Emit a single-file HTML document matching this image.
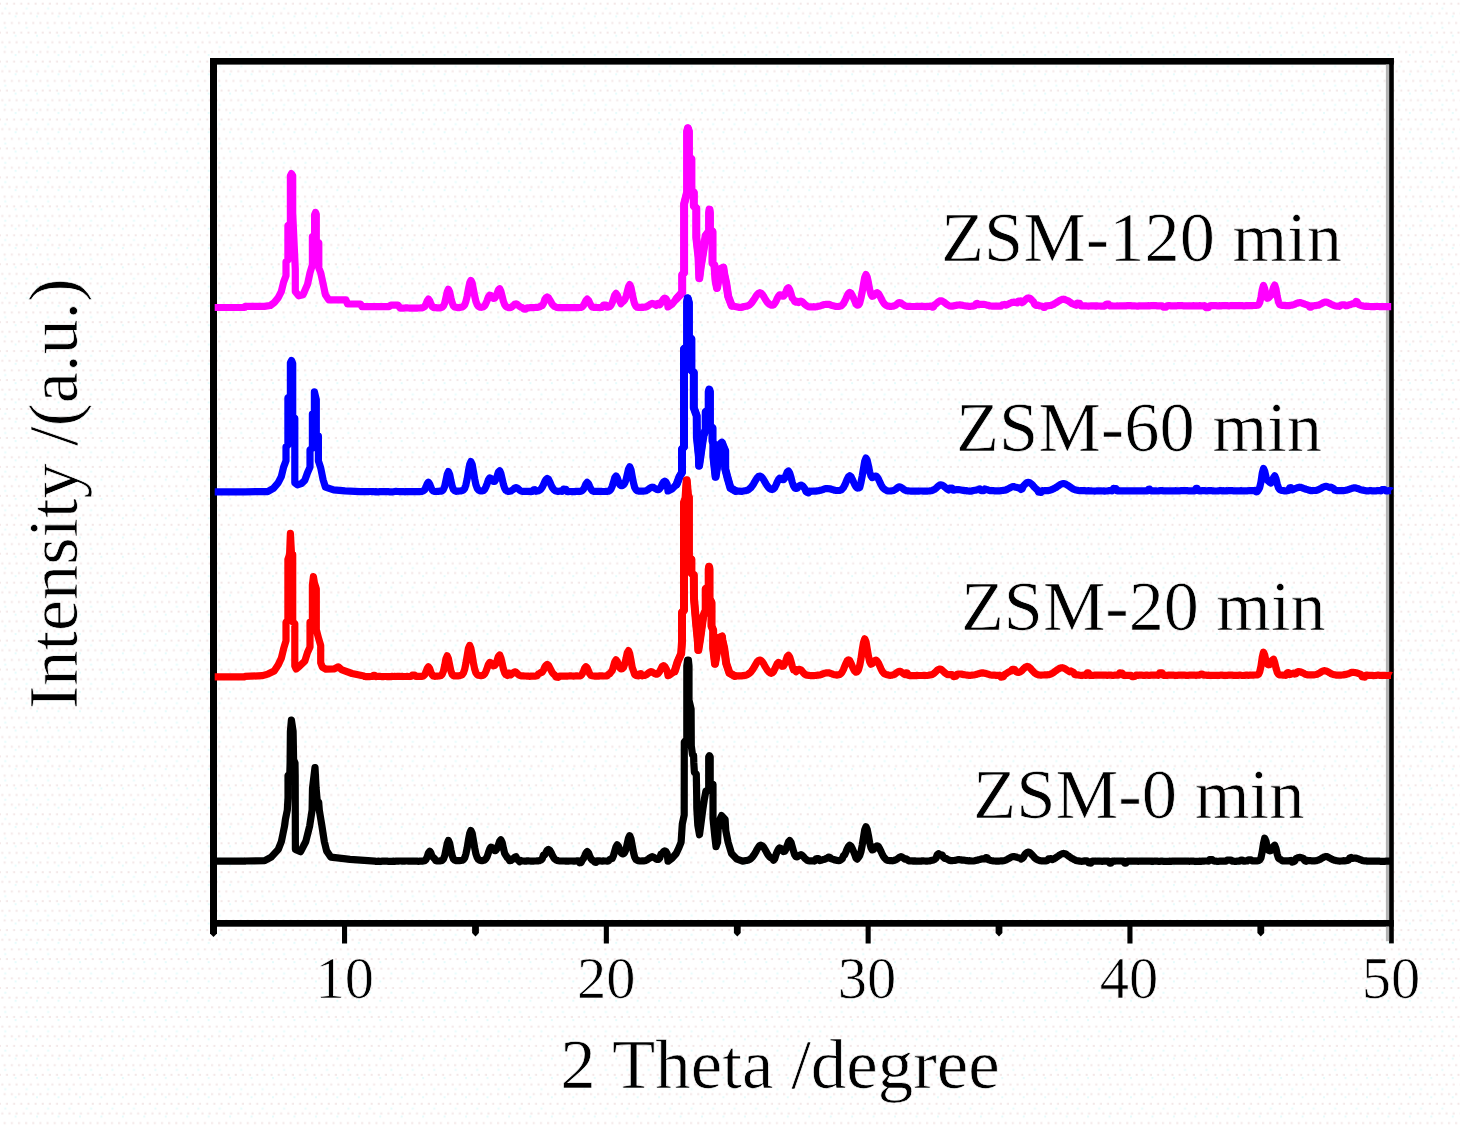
<!DOCTYPE html>
<html lang="en">
<head>
<meta charset="utf-8">
<title>XRD patterns of ZSM samples</title>
<style>
html,body{margin:0;padding:0;background:#fefefe;}
body{width:1460px;height:1145px;overflow:hidden;position:relative;}
svg{position:absolute;left:0;top:0;display:block;}
text{font-family:"Liberation Serif","Times New Roman",serif;fill:#000;stroke:#fefefe;stroke-width:0.7px;}
</style>
</head>
<body>
<svg width="1460" height="1145" viewBox="0 0 1460 1145">
<defs>
<pattern id="dither" x="0" y="2.7" width="7.15" height="28.95" patternUnits="userSpaceOnUse">
<rect x="6.0" y="0" width="2" height="2" fill="#f3e7e7"/><rect x="-1.15" y="0" width="2" height="2" fill="#f3e7e7"/>
<rect x="1.3" y="9.65" width="2" height="2" fill="#f3e7e7"/>
<rect x="3.7" y="19.3" width="2" height="2" fill="#f3e7e7"/>
</pattern>
<pattern id="dither2" x="0" y="0" width="21.45" height="19.3" patternUnits="userSpaceOnUse">
<rect x="4.3" y="7.4" width="2" height="2" fill="#e6fbfb"/>
<rect x="14.6" y="15.5" width="2" height="2" fill="#e6fbfb"/>
</pattern>
</defs>
<rect x="0" y="0" width="1460" height="1145" fill="#ffffff"/>
<rect x="0" y="0" width="1460" height="1125" fill="url(#dither)"/>
<rect x="0" y="0" width="1460" height="1125" fill="url(#dither2)"/>
<g id="frame" fill="#000">
<rect x="210" y="58" width="1183.8" height="6.6"/>
<rect x="210" y="58" width="7" height="868.7"/>
<rect x="210" y="920" width="1183.8" height="6.7"/>
<rect x="1389.1" y="58" width="4.7" height="885.4"/>
<rect x="1385.9" y="64.6" width="3.2" height="855.4" fill="#b4b4b4"/>
<rect x="1385.9" y="926.7" width="3.2" height="14.5" fill="#b4b4b4"/>
</g>
<g id="curves">
<path d="M214.7,307.5 L215.9,307.5 L217.2,307.5 L218.4,307.5 L219.7,307.5 L220.9,307.5 L222.2,307.5 L223.4,307.5 L224.7,307.5 L225.9,307.5 L227.2,307.5 L228.4,307.5 L229.7,307.5 L230.9,307.5 L232.2,307.5 L233.4,307.5 L234.7,307.5 L235.9,307.5 L237.2,307.5 L238.4,307.5 L239.7,307.5 L240.9,307.5 L242.2,307.5 L243.4,307.5 L244.7,307.5 L245.0,306.4 L264.4,306.4 L270.3,305.5 L274.2,302.6 L278.1,297.9 L281.3,291.6 L283.6,282.1 L286.0,275.8 L286.0,261.8 L287.9,260.1 L287.9,225.5 L290.4,223.9 L290.4,175.8 L291.5,173.6 L292.7,175.8 L292.7,212.9 L295.3,269.5 L295.3,291.5 L298.7,295.9 L303.0,294.7 L307.5,284.4 L310.0,272.7 L312.4,264.8 L312.4,236.5 L314.6,234.9 L314.6,214.8 L315.5,212.4 L316.3,214.3 L316.3,241.2 L318.8,242.8 L318.8,267.9 L320.7,272.7 L323.1,283.7 L325.4,294.7 L328.9,299.9 L346.0,299.9 L347.5,304.0 L360.5,304.0 L362.0,306.7 L389.0,306.7 L391.0,305.1 L398.0,305.1 L400.0,308.1 L400.9,308.0 L402.2,308.2 L403.4,308.2 L404.7,308.0 L405.9,307.8 L407.2,307.9 L408.4,308.0 L409.7,308.1 L410.9,308.1 L412.2,308.1 L413.4,308.1 L414.7,308.2 L415.9,308.1 L417.2,308.1 L418.4,308.0 L419.7,308.0 L420.9,307.9 L422.2,307.8 L423.4,307.4 L424.7,306.5 L425.9,304.2 L427.2,301.0 L428.4,299.1 L429.7,300.7 L430.9,304.0 L432.2,306.5 L433.4,307.4 L434.7,307.7 L435.9,307.7 L437.2,307.8 L438.4,307.9 L439.7,307.9 L440.9,307.7 L442.2,307.2 L443.4,306.0 L444.7,303.1 L445.9,297.9 L447.2,292.0 L448.4,289.2 L449.7,292.0 L450.9,297.8 L452.2,303.0 L453.4,305.8 L454.7,307.0 L455.9,307.3 L457.2,307.6 L458.4,307.6 L459.7,307.6 L460.9,307.3 L462.2,307.0 L463.4,306.4 L464.7,304.7 L465.9,301.5 L467.2,296.0 L468.4,289.2 L469.7,282.9 L470.9,280.4 L472.2,283.1 L473.4,289.4 L474.7,296.1 L475.9,301.4 L477.2,304.7 L478.4,306.4 L479.7,307.1 L480.9,307.3 L482.2,307.2 L483.4,306.8 L484.7,305.7 L485.9,303.5 L487.2,300.3 L488.4,296.9 L489.7,295.2 L490.9,295.5 L492.2,297.1 L493.4,298.4 L494.7,298.2 L495.9,296.5 L497.2,293.2 L498.4,289.9 L499.7,288.7 L500.9,291.3 L502.2,296.3 L503.4,301.3 L504.7,304.7 L505.9,306.4 L507.2,307.2 L508.4,307.6 L509.7,307.6 L510.9,307.4 L512.2,306.6 L513.5,305.5 L514.7,304.3 L516.0,303.9 L517.2,304.4 L518.5,305.6 L519.7,306.6 L521.0,307.2 L522.2,307.5 L523.5,308.9 L524.7,309.1 L526.0,309.1 L527.2,307.8 L528.5,307.9 L529.7,307.7 L531.0,307.7 L532.2,307.6 L533.5,307.6 L534.7,307.5 L536.0,307.4 L537.2,307.4 L538.5,307.2 L539.7,306.8 L541.0,305.8 L542.2,305.7 L543.5,303.5 L544.7,299.8 L546.0,297.8 L547.2,297.0 L548.5,297.8 L549.7,299.8 L551.0,302.1 L552.2,304.2 L553.5,305.6 L554.7,306.5 L556.0,307.1 L557.2,307.5 L558.5,307.7 L559.7,307.6 L561.0,307.6 L562.2,307.5 L563.5,307.6 L564.7,307.6 L566.0,307.7 L567.2,307.6 L568.5,307.6 L569.7,307.6 L571.0,307.6 L572.2,307.6 L573.5,307.7 L574.7,307.7 L576.0,307.7 L577.2,307.6 L578.5,307.6 L579.7,307.5 L581.0,307.4 L582.2,306.9 L583.5,305.4 L584.7,303.0 L586.0,300.4 L587.2,299.1 L588.5,300.3 L589.7,303.0 L591.0,305.4 L592.2,307.0 L593.5,307.4 L594.7,307.4 L596.0,307.4 L597.2,307.5 L598.5,307.5 L599.7,307.6 L601.0,307.4 L602.2,307.4 L603.5,305.1 L604.7,305.2 L606.0,305.0 L607.2,307.2 L608.5,306.9 L609.7,306.5 L611.0,305.3 L612.2,302.8 L613.5,298.9 L614.7,295.1 L616.0,293.4 L617.2,294.9 L618.5,298.1 L619.7,301.0 L621.0,303.7 L622.2,302.1 L623.5,301.3 L624.7,299.8 L626.0,296.8 L627.2,291.8 L628.5,286.8 L629.7,284.6 L631.0,287.4 L632.2,293.4 L633.5,299.7 L634.7,304.1 L636.0,306.4 L637.2,307.3 L638.5,307.5 L639.7,307.3 L641.0,307.3 L642.2,307.2 L643.5,307.3 L644.7,307.1 L646.0,306.9 L647.2,306.4 L648.5,305.6 L649.7,304.7 L651.0,303.8 L652.2,303.4 L653.5,303.7 L654.7,304.5 L656.0,305.4 L657.2,303.5 L658.5,303.4 L659.7,304.8 L661.0,303.1 L662.2,300.9 L663.5,298.9 L664.7,298.1 L666.0,298.9 L667.2,300.9 L668.0,306.9 L672.0,304.3 L676.7,298.5 L682.2,292.5 L682.2,274.8 L684.1,272.8 L684.1,204.1 L687.1,192.3 L687.1,131.4 L687.9,128.2 L688.9,131.4 L688.9,157.0 L691.4,158.9 L691.4,190.4 L693.8,192.3 L693.8,206.1 L696.3,208.1 L696.3,237.5 L698.5,257.2 L699.3,278.2 L700.7,267.0 L703.6,249.3 L705.7,235.6 L707.2,233.6 L709.1,231.6 L709.1,213.0 L709.5,209.6 L709.9,213.0 L709.9,229.7 L712.5,231.6 L712.5,263.1 L714.4,265.0 L715.6,280.8 L717.0,288.0 L718.9,276.8 L720.5,269.0 L723.3,267.6 L724.2,273.9 L726.2,283.2 L728.2,296.4 L731.7,305.7 L738.6,307.3 L742.0,307.3 L742.2,306.8 L743.5,306.7 L744.7,306.6 L746.0,306.3 L747.2,306.1 L748.5,305.5 L749.7,304.7 L751.0,303.6 L752.2,302.0 L753.5,300.2 L754.7,298.3 L756.0,296.2 L757.2,294.5 L758.5,293.2 L759.7,292.7 L761.0,293.1 L762.2,294.3 L763.5,296.1 L764.7,298.2 L766.0,300.4 L767.2,302.1 L768.5,303.4 L769.7,304.4 L771.0,305.1 L772.2,305.2 L773.5,304.8 L774.7,303.4 L776.0,301.3 L777.2,298.5 L778.5,296.1 L779.7,294.8 L781.0,295.1 L782.2,296.1 L783.5,296.2 L784.7,294.7 L786.0,291.7 L787.2,288.7 L788.5,287.7 L789.7,289.6 L791.0,293.6 L792.2,298.0 L793.5,299.4 L794.7,301.6 L796.0,302.2 L797.2,301.5 L798.5,302.5 L799.7,301.5 L801.0,301.1 L802.2,301.7 L803.5,302.9 L804.7,304.2 L806.0,305.3 L807.2,306.1 L808.5,306.7 L809.7,306.9 L811.0,306.9 L812.2,306.9 L813.5,306.7 L814.7,306.8 L816.0,306.8 L817.2,306.6 L818.5,306.3 L819.7,306.0 L821.0,305.6 L822.2,305.2 L823.5,304.8 L824.7,304.5 L826.0,304.4 L827.2,304.3 L828.5,304.3 L829.7,304.6 L831.0,305.1 L832.2,305.5 L833.5,305.8 L834.7,306.2 L836.0,306.4 L837.2,306.5 L838.5,306.5 L839.7,306.3 L841.0,305.9 L842.2,304.9 L843.5,303.5 L844.7,301.2 L846.0,298.5 L847.2,295.6 L848.5,293.4 L849.7,292.5 L851.0,293.2 L852.2,295.3 L853.5,298.0 L854.7,300.8 L856.0,304.1 L857.2,305.2 L858.5,305.0 L859.7,303.2 L861.0,298.0 L862.2,291.8 L863.5,284.1 L864.7,277.4 L866.0,274.5 L867.2,277.0 L868.5,283.1 L869.7,289.6 L871.0,294.3 L872.2,296.3 L873.5,296.0 L874.7,294.6 L876.0,293.1 L877.2,292.7 L878.5,293.6 L879.7,295.6 L881.0,298.1 L882.2,300.6 L883.5,302.7 L884.7,304.2 L886.0,305.3 L887.2,305.9 L888.5,306.2 L889.7,306.3 L891.0,306.5 L892.2,306.3 L893.5,306.1 L894.7,305.7 L896.0,305.0 L897.2,303.8 L898.5,302.8 L899.7,302.6 L901.0,303.0 L902.2,304.0 L903.5,304.8 L904.7,305.7 L906.0,306.1 L907.2,306.4 L908.5,306.4 L909.7,306.4 L911.0,306.5 L912.2,306.5 L913.5,306.5 L914.7,306.5 L916.0,306.4 L917.2,306.4 L918.5,306.5 L919.7,306.3 L921.0,306.3 L922.2,306.2 L923.5,306.5 L924.7,306.6 L926.0,306.6 L927.2,306.4 L928.5,306.4 L929.7,306.2 L931.0,306.1 L932.2,307.2 L933.5,306.9 L934.7,304.8 L936.0,303.9 L937.2,302.8 L938.5,301.7 L939.7,300.9 L941.0,300.8 L942.2,301.1 L943.5,301.8 L944.7,302.8 L946.0,303.7 L947.2,304.7 L948.5,305.4 L949.7,306.0 L951.0,306.1 L952.2,306.2 L953.5,305.9 L954.7,305.6 L956.0,305.4 L957.2,305.1 L958.5,305.0 L959.7,304.9 L961.0,305.1 L962.2,305.2 L963.5,305.5 L964.7,305.7 L966.0,306.0 L967.2,306.1 L968.5,306.3 L969.7,306.3 L971.0,306.3 L972.2,306.1 L973.5,306.1 L974.7,305.8 L976.0,303.9 L977.2,303.4 L978.5,304.7 L979.7,304.4 L981.0,304.3 L982.2,304.4 L983.5,304.3 L984.7,304.5 L986.0,304.7 L987.2,305.2 L988.5,305.4 L989.7,305.9 L991.0,306.0 L992.2,306.1 L993.5,306.0 L994.7,306.1 L996.0,306.1 L997.2,306.2 L998.5,306.1 L999.7,306.2 L1001.0,306.2 L1002.2,304.9 L1003.5,304.7 L1004.7,304.4 L1006.0,305.2 L1007.2,304.7 L1008.5,304.1 L1009.7,303.4 L1011.0,302.9 L1012.2,302.4 L1013.5,302.2 L1014.7,302.2 L1016.0,302.5 L1017.2,302.9 L1018.5,301.0 L1019.7,301.0 L1021.0,300.9 L1022.2,302.6 L1023.5,301.7 L1024.7,300.5 L1026.0,299.2 L1027.2,298.3 L1028.5,297.9 L1029.7,298.2 L1031.0,299.2 L1032.2,300.5 L1033.5,301.8 L1034.7,304.4 L1036.0,305.4 L1037.2,304.9 L1038.5,305.4 L1039.7,305.9 L1041.0,306.0 L1042.2,306.2 L1043.5,307.4 L1044.7,307.4 L1046.0,305.9 L1047.2,305.8 L1048.5,305.7 L1049.7,305.5 L1051.0,305.4 L1052.2,304.9 L1053.5,304.4 L1054.7,303.6 L1056.0,302.9 L1057.2,302.1 L1058.5,301.3 L1059.7,300.5 L1061.0,299.8 L1062.2,299.4 L1063.5,299.2 L1064.7,299.4 L1066.0,300.0 L1067.2,300.5 L1068.5,301.1 L1069.7,301.9 L1071.0,302.9 L1072.2,303.7 L1073.5,304.2 L1074.7,304.7 L1076.0,305.2 L1077.2,303.1 L1078.5,303.3 L1079.7,303.4 L1081.0,305.9 L1082.2,305.9 L1083.5,305.9 L1084.7,305.8 L1086.0,305.9 L1087.2,306.0 L1088.5,306.1 L1089.7,306.0 L1091.0,305.9 L1092.2,305.8 L1093.5,305.9 L1094.7,305.9 L1096.0,306.1 L1097.2,305.9 L1098.5,306.0 L1099.7,306.0 L1101.0,306.1 L1102.2,306.2 L1103.5,306.1 L1104.7,306.1 L1106.0,304.3 L1107.2,304.2 L1108.5,304.2 L1109.7,305.8 L1111.0,305.9 L1112.2,305.9 L1113.5,306.0 L1114.7,306.0 L1116.0,306.0 L1117.2,305.9 L1118.5,306.0 L1119.7,305.9 L1121.0,305.9 L1122.2,305.9 L1123.5,305.9 L1124.7,305.8 L1126.0,305.8 L1127.2,305.7 L1128.5,305.6 L1129.7,305.6 L1131.0,305.7 L1132.2,306.0 L1133.5,305.9 L1134.7,305.9 L1136.0,306.0 L1137.2,306.1 L1138.5,306.1 L1139.7,305.8 L1141.0,305.8 L1142.2,305.9 L1143.5,305.9 L1144.7,305.9 L1146.0,305.8 L1147.2,305.8 L1148.5,305.7 L1149.7,305.8 L1151.0,305.7 L1152.2,305.7 L1153.5,305.6 L1154.7,305.7 L1156.0,305.7 L1157.2,305.8 L1158.5,305.8 L1159.7,305.9 L1161.0,305.9 L1162.2,305.8 L1163.5,307.1 L1164.7,307.2 L1166.0,307.2 L1167.2,305.8 L1168.5,305.7 L1169.7,305.7 L1171.0,305.8 L1172.2,305.8 L1173.5,305.9 L1174.7,305.9 L1176.0,305.9 L1177.2,305.7 L1178.5,305.7 L1179.7,305.7 L1181.0,305.6 L1182.2,305.7 L1183.5,305.8 L1184.7,305.9 L1186.0,305.8 L1187.2,305.9 L1188.5,305.8 L1189.7,305.9 L1191.0,305.8 L1192.2,305.8 L1193.5,305.7 L1194.7,305.8 L1196.0,305.8 L1197.2,305.9 L1198.5,305.8 L1199.7,305.7 L1201.0,305.8 L1202.2,305.8 L1203.5,305.8 L1204.7,305.7 L1206.0,307.6 L1207.2,307.7 L1208.5,307.7 L1209.7,305.8 L1211.0,305.7 L1212.2,305.7 L1213.5,305.7 L1214.7,305.6 L1216.0,305.7 L1217.2,305.8 L1218.5,305.8 L1219.7,305.7 L1221.0,305.8 L1222.2,305.7 L1223.5,305.6 L1224.7,305.5 L1226.0,305.6 L1227.2,305.7 L1228.5,305.8 L1229.7,305.8 L1231.0,305.6 L1232.2,305.6 L1233.5,305.5 L1234.7,305.6 L1236.0,305.7 L1237.2,305.7 L1238.5,305.7 L1239.7,305.6 L1241.0,305.6 L1242.2,305.7 L1243.5,305.8 L1244.7,305.8 L1246.0,305.7 L1247.2,305.6 L1248.5,305.6 L1249.7,305.6 L1251.0,305.6 L1252.2,305.6 L1253.5,305.5 L1254.7,305.5 L1256.0,305.5 L1257.2,305.3 L1258.5,304.8 L1259.7,302.6 L1261.0,297.4 L1262.2,289.7 L1263.5,285.4 L1264.7,288.8 L1266.0,295.0 L1267.2,298.3 L1268.5,298.0 L1269.7,296.6 L1271.0,295.2 L1272.2,292.0 L1273.5,287.4 L1274.7,285.1 L1276.0,289.1 L1277.2,296.3 L1278.5,301.9 L1279.7,304.5 L1281.0,305.2 L1282.2,305.3 L1283.5,305.4 L1284.7,305.4 L1286.0,305.6 L1287.2,305.6 L1288.5,305.7 L1289.7,305.6 L1291.0,305.3 L1292.2,305.1 L1293.5,304.7 L1294.7,304.3 L1296.0,303.6 L1297.2,303.2 L1298.5,302.8 L1299.7,302.7 L1301.0,302.7 L1302.2,303.2 L1303.5,303.6 L1304.7,304.1 L1306.0,304.5 L1307.2,305.0 L1308.5,305.4 L1309.7,307.1 L1311.0,307.2 L1312.2,305.9 L1313.5,305.8 L1314.7,305.7 L1316.0,305.6 L1317.2,305.3 L1318.5,305.1 L1319.7,304.6 L1321.0,304.0 L1322.2,303.2 L1323.5,302.6 L1324.7,302.2 L1326.0,302.1 L1327.2,302.3 L1328.5,302.9 L1329.7,303.5 L1331.0,304.2 L1332.2,304.7 L1333.5,305.3 L1334.7,305.7 L1336.0,306.0 L1337.2,306.2 L1338.5,306.2 L1339.7,306.3 L1341.0,305.0 L1342.2,304.9 L1343.5,304.8 L1344.7,304.8 L1346.0,305.8 L1347.2,305.6 L1348.5,305.1 L1349.7,304.8 L1351.0,304.3 L1352.2,303.9 L1353.5,303.7 L1354.7,303.6 L1356.0,301.5 L1357.2,301.8 L1358.5,304.4 L1359.7,304.9 L1361.0,305.4 L1362.2,305.8 L1363.5,306.1 L1364.7,306.3 L1366.0,306.2 L1367.2,306.3 L1368.5,306.4 L1369.7,306.5 L1371.0,306.6 L1372.2,306.6 L1373.5,306.6 L1374.7,306.6 L1376.0,306.5 L1377.2,306.4 L1378.5,306.5 L1379.7,306.6 L1381.0,306.7 L1382.2,306.7 L1383.5,306.7 L1384.7,306.6 L1386.0,306.5 L1387.2,306.6 L1388.5,306.6 L1389.7,306.7 L1391.0,306.6 L1391.2,306.6" fill="none" stroke="#ff00ff" stroke-width="7.2" stroke-linejoin="round" stroke-linecap="butt"/>
<path d="M676.7,298.5 L682.2,292.5 L682.2,274.8 L684.1,272.8 L684.1,204.1 L687.1,192.3 L687.1,131.4 L687.9,128.2 L688.9,131.4 L688.9,157.0 L691.4,158.9 L691.4,190.4 L693.8,192.3 L693.8,206.1 L696.3,208.1 L696.3,237.5 L698.5,257.2 L699.3,278.2 L700.7,267.0 L703.6,249.3 L705.7,235.6 L707.2,233.6 L709.1,231.6 L709.1,213.0 L709.5,209.6 L709.9,213.0 L709.9,229.7 L712.5,231.6 L712.5,263.1 L714.4,265.0 L715.6,280.8 L717.0,288.0 L718.9,276.8 L720.5,269.0 L723.3,267.6 L724.2,273.9 L726.2,283.2 L728.2,296.4 L731.7,305.7" fill="none" stroke="#ff00ff" stroke-width="8" stroke-linejoin="round" stroke-linecap="round"/>
<path d="M214.7,491.8 L215.9,491.8 L217.2,491.8 L218.4,491.8 L219.7,491.8 L220.9,491.8 L222.2,491.8 L223.4,491.8 L224.7,491.8 L225.9,491.8 L227.2,491.8 L228.4,491.8 L229.7,491.8 L230.9,491.8 L232.2,491.8 L233.4,491.8 L234.7,491.8 L235.9,491.8 L237.2,491.8 L238.4,491.8 L239.7,491.8 L240.9,491.8 L242.2,491.8 L243.4,491.8 L244.7,491.8 L245.0,491.8 L267.6,491.6 L273.4,488.3 L278.1,482.8 L281.3,476.6 L283.6,467.1 L286.0,460.8 L286.0,446.8 L287.9,445.1 L287.9,397.9 L290.4,396.3 L290.4,362.8 L291.5,360.5 L292.7,363.3 L292.7,416.8 L294.8,418.3 L294.8,482.8 L297.5,484.8 L301.4,483.6 L304.8,480.4 L307.5,472.7 L310.0,467.1 L310.0,449.8 L312.4,448.2 L312.4,413.8 L314.4,412.1 L314.4,391.9 L316.3,399.5 L316.3,434.1 L318.4,435.8 L318.4,460.8 L320.7,467.9 L323.1,479.7 L325.4,487.1 L333.6,489.8 L345.0,490.9 L360.0,491.7 L360.9,491.7 L362.2,491.7 L363.4,491.7 L364.7,491.7 L365.9,491.7 L367.2,491.7 L368.4,491.6 L369.7,491.5 L370.9,491.5 L372.2,491.6 L373.4,491.6 L374.7,491.8 L375.9,491.7 L377.2,491.8 L378.4,491.8 L379.7,491.7 L380.9,491.7 L382.2,491.6 L383.4,491.7 L384.7,491.7 L385.9,491.7 L387.2,491.6 L388.4,491.7 L389.7,491.8 L390.9,491.9 L392.2,491.9 L393.4,491.7 L394.7,491.5 L395.9,491.3 L397.2,491.5 L398.4,491.5 L399.7,491.6 L400.9,491.5 L402.2,491.6 L403.4,491.6 L404.7,491.8 L405.9,491.7 L407.2,491.7 L408.4,491.5 L409.7,491.6 L410.9,491.5 L412.2,491.6 L413.4,491.6 L414.7,491.7 L415.9,491.7 L417.2,491.6 L418.4,491.7 L419.7,491.6 L420.9,491.5 L422.2,491.4 L423.4,490.8 L424.7,489.7 L425.9,487.1 L427.2,483.9 L428.4,482.2 L429.7,484.0 L430.9,487.4 L432.2,490.0 L433.4,491.1 L434.7,491.4 L435.9,491.5 L437.2,491.4 L438.4,491.3 L439.7,491.2 L440.9,491.2 L442.2,490.8 L443.4,489.5 L444.7,486.3 L445.9,480.7 L447.2,474.5 L448.4,471.6 L449.7,474.4 L450.9,480.6 L452.2,486.2 L453.4,489.5 L454.7,490.8 L455.9,491.3 L457.2,491.2 L458.4,491.1 L459.7,491.0 L460.9,490.9 L462.2,490.6 L463.4,490.0 L464.7,488.4 L465.9,484.8 L467.2,478.8 L468.4,471.2 L469.7,464.5 L470.9,461.6 L472.2,464.5 L473.4,471.3 L474.7,478.9 L475.9,484.8 L477.2,488.3 L478.4,490.0 L479.7,490.7 L480.9,491.0 L482.2,490.9 L483.4,490.5 L484.7,489.3 L485.9,486.9 L487.2,483.5 L488.4,480.0 L489.7,477.9 L490.9,478.3 L492.2,480.1 L493.4,481.5 L494.7,481.4 L495.9,479.4 L497.2,475.9 L498.4,472.0 L499.7,470.7 L500.9,473.5 L502.2,479.0 L503.4,484.5 L504.7,488.3 L505.9,490.3 L507.2,491.1 L508.4,491.4 L509.7,491.2 L510.9,491.0 L512.2,490.1 L513.5,489.2 L514.7,488.0 L516.0,487.5 L517.2,488.0 L518.5,489.1 L519.7,490.2 L521.0,491.0 L522.2,491.3 L523.5,491.4 L524.7,491.4 L526.0,491.4 L527.2,491.4 L528.5,491.4 L529.7,491.4 L531.0,491.6 L532.2,491.5 L533.5,489.9 L534.7,489.7 L536.0,491.3 L537.2,491.0 L538.5,490.7 L539.7,490.1 L541.0,489.1 L542.2,487.3 L543.5,484.7 L544.7,481.8 L546.0,479.4 L547.2,478.4 L548.5,479.3 L549.7,481.8 L551.0,484.8 L552.2,487.4 L553.5,489.3 L554.7,490.4 L556.0,491.0 L557.2,491.3 L558.5,491.3 L559.7,491.2 L561.0,491.2 L562.2,491.3 L563.5,489.1 L564.7,489.3 L566.0,489.4 L567.2,491.7 L568.5,491.6 L569.7,491.5 L571.0,491.5 L572.2,491.6 L573.5,491.6 L574.7,491.6 L576.0,491.4 L577.2,491.4 L578.5,491.3 L579.7,491.4 L581.0,491.2 L582.2,490.7 L583.5,489.2 L584.7,486.7 L586.0,483.8 L587.2,482.4 L588.5,483.7 L589.7,486.5 L591.0,489.1 L592.2,490.7 L593.5,491.3 L594.7,491.4 L596.0,491.4 L597.2,491.4 L598.5,491.4 L599.7,491.4 L601.0,491.3 L602.2,491.5 L603.5,491.5 L604.7,491.5 L606.0,491.4 L607.2,491.3 L608.5,491.2 L609.7,490.6 L611.0,489.1 L612.2,486.3 L613.5,482.2 L614.7,477.9 L616.0,476.0 L617.2,477.6 L618.5,481.4 L619.7,484.5 L621.0,485.7 L622.2,485.6 L623.5,484.8 L624.7,483.2 L626.0,480.0 L627.2,474.7 L628.5,469.2 L629.7,466.8 L631.0,469.7 L632.2,476.3 L633.5,482.9 L634.7,487.5 L636.0,489.8 L637.2,490.8 L638.5,491.1 L639.7,491.2 L641.0,491.2 L642.2,491.2 L643.5,491.1 L644.7,491.0 L646.0,490.7 L647.2,490.1 L648.5,489.3 L649.7,488.3 L651.0,487.5 L652.2,487.2 L653.5,487.4 L654.7,488.2 L656.0,489.0 L657.2,489.7 L658.5,489.7 L659.7,488.7 L661.0,486.9 L662.2,484.2 L663.5,482.0 L664.7,481.2 L666.0,482.2 L667.2,484.5 L668.0,491.0 L672.0,489.1 L676.7,484.2 L679.6,476.5 L682.0,472.5 L682.0,449.0 L684.0,447.0 L684.0,348.8 L687.1,346.8 L687.1,301.6 L687.7,298.3 L688.9,302.8 L688.9,336.8 L691.4,338.8 L691.4,370.4 L693.8,372.3 L693.8,407.8 L696.7,415.8 L696.9,437.2 L698.9,456.8 L699.1,465.7 L700.8,453.8 L703.4,435.8 L705.7,429.3 L705.7,411.8 L708.7,409.8 L708.7,391.8 L709.3,389.6 L709.9,391.8 L709.9,425.8 L712.5,427.8 L712.5,441.1 L713.4,443.8 L713.4,456.8 L715.6,476.8 L718.0,460.8 L719.5,445.0 L721.9,442.7 L723.3,446.3 L725.2,450.8 L725.2,468.8 L727.2,476.6 L730.5,488.1 L735.6,490.9 L742.0,491.4 L742.2,491.2 L743.5,491.0 L744.7,490.8 L746.0,490.6 L747.2,490.3 L748.5,489.6 L749.7,488.7 L751.0,487.5 L752.2,485.9 L753.5,484.0 L754.7,481.8 L756.0,479.7 L757.2,477.8 L758.5,476.5 L759.7,476.1 L761.0,476.4 L762.2,477.7 L763.5,479.5 L764.7,481.7 L766.0,483.9 L767.2,485.8 L768.5,487.4 L769.7,488.6 L771.0,489.3 L772.2,489.6 L773.5,489.0 L774.7,487.6 L776.0,485.0 L777.2,482.1 L778.5,479.5 L779.7,478.2 L781.0,478.4 L782.2,479.4 L783.5,479.7 L784.7,478.2 L786.0,475.2 L787.2,472.1 L788.5,471.0 L789.7,473.1 L791.0,477.3 L792.2,482.1 L793.5,485.7 L794.7,487.9 L796.0,488.5 L797.2,488.1 L798.5,486.8 L799.7,485.5 L801.0,485.0 L802.2,485.6 L803.5,486.9 L804.7,488.4 L806.0,491.6 L807.2,492.3 L808.5,492.8 L809.7,491.2 L811.0,491.3 L812.2,491.2 L813.5,491.0 L814.7,491.1 L816.0,491.1 L817.2,490.9 L818.5,490.7 L819.7,490.4 L821.0,490.2 L822.2,489.7 L823.5,489.4 L824.7,488.8 L826.0,488.6 L827.2,488.5 L828.5,488.7 L829.7,488.8 L831.0,489.1 L832.2,489.5 L833.5,489.9 L834.7,490.3 L836.0,490.5 L837.2,490.5 L838.5,490.5 L839.7,490.5 L841.0,490.0 L842.2,489.1 L843.5,487.5 L844.7,485.2 L846.0,482.3 L847.2,479.1 L848.5,476.7 L849.7,475.8 L851.0,476.7 L852.2,479.1 L853.5,481.9 L854.7,484.7 L856.0,486.8 L857.2,488.1 L858.5,488.0 L859.7,487.6 L861.0,482.3 L862.2,476.1 L863.5,468.3 L864.7,461.3 L866.0,458.1 L867.2,460.3 L868.5,466.0 L869.7,472.0 L871.0,476.0 L872.2,477.7 L873.5,477.2 L874.7,476.4 L876.0,476.0 L877.2,477.1 L878.5,479.2 L879.7,481.9 L881.0,484.6 L882.2,486.8 L883.5,488.3 L884.7,489.4 L886.0,490.1 L887.2,490.7 L888.5,491.0 L889.7,491.0 L891.0,490.9 L892.2,490.7 L893.5,490.5 L894.7,489.9 L896.0,489.0 L897.2,487.9 L898.5,487.1 L899.7,486.8 L901.0,487.3 L902.2,488.2 L903.5,489.2 L904.7,490.0 L906.0,490.6 L907.2,490.8 L908.5,490.9 L909.7,491.0 L911.0,491.1 L912.2,491.2 L913.5,491.1 L914.7,491.1 L916.0,491.0 L917.2,491.1 L918.5,491.2 L919.7,491.0 L921.0,491.0 L922.2,491.0 L923.5,491.2 L924.7,491.2 L926.0,491.1 L927.2,491.1 L928.5,491.0 L929.7,490.9 L931.0,490.7 L932.2,490.4 L933.5,489.9 L934.7,489.3 L936.0,488.4 L937.2,487.1 L938.5,486.0 L939.7,485.1 L941.0,484.8 L942.2,485.2 L943.5,485.9 L944.7,487.0 L946.0,488.1 L947.2,489.2 L948.5,489.9 L949.7,488.1 L951.0,488.3 L952.2,488.2 L953.5,490.2 L954.7,489.9 L956.0,489.7 L957.2,489.6 L958.5,489.6 L959.7,489.8 L961.0,490.0 L962.2,490.2 L963.5,490.4 L964.7,490.6 L966.0,490.6 L967.2,490.9 L968.5,491.0 L969.7,491.2 L971.0,491.1 L972.2,490.9 L973.5,490.5 L974.7,490.3 L976.0,490.1 L977.2,489.8 L978.5,489.4 L979.7,488.9 L981.0,490.6 L982.2,490.6 L983.5,490.7 L984.7,489.0 L986.0,489.3 L987.2,489.7 L988.5,490.2 L989.7,490.6 L991.0,490.7 L992.2,490.7 L993.5,490.7 L994.7,490.8 L996.0,490.9 L997.2,490.9 L998.5,490.8 L999.7,490.8 L1001.0,490.7 L1002.2,490.5 L1003.5,490.3 L1004.7,490.2 L1006.0,489.9 L1007.2,489.4 L1008.5,488.7 L1009.7,488.0 L1011.0,487.3 L1012.2,486.8 L1013.5,486.5 L1014.7,486.9 L1016.0,487.2 L1017.2,487.6 L1018.5,487.9 L1019.7,487.9 L1021.0,489.5 L1022.2,488.8 L1023.5,485.9 L1024.7,484.6 L1026.0,483.4 L1027.2,482.5 L1028.5,482.3 L1029.7,482.7 L1031.0,483.6 L1032.2,484.7 L1033.5,486.2 L1034.7,487.5 L1036.0,488.8 L1037.2,489.5 L1038.5,492.0 L1039.7,492.3 L1041.0,492.5 L1042.2,490.7 L1043.5,490.8 L1044.7,490.7 L1046.0,490.6 L1047.2,490.6 L1048.5,490.6 L1049.7,490.3 L1051.0,489.9 L1052.2,489.4 L1053.5,488.8 L1054.7,488.1 L1056.0,487.5 L1057.2,486.6 L1058.5,485.7 L1059.7,484.9 L1061.0,484.2 L1062.2,483.7 L1063.5,483.5 L1064.7,483.7 L1066.0,484.3 L1067.2,485.0 L1068.5,485.9 L1069.7,486.6 L1071.0,487.6 L1072.2,488.4 L1073.5,489.2 L1074.7,489.6 L1076.0,490.0 L1077.2,490.2 L1078.5,490.5 L1079.7,490.7 L1081.0,490.7 L1082.2,490.7 L1083.5,490.7 L1084.7,490.7 L1086.0,490.8 L1087.2,490.8 L1088.5,490.7 L1089.7,490.8 L1091.0,490.8 L1092.2,491.0 L1093.5,491.0 L1094.7,491.1 L1096.0,491.0 L1097.2,490.8 L1098.5,490.8 L1099.7,490.9 L1101.0,490.9 L1102.2,491.0 L1103.5,490.9 L1104.7,491.1 L1106.0,491.0 L1107.2,491.0 L1108.5,490.7 L1109.7,490.7 L1111.0,490.7 L1112.2,490.8 L1113.5,488.4 L1114.7,488.5 L1116.0,488.6 L1117.2,491.0 L1118.5,491.0 L1119.7,490.9 L1121.0,490.9 L1122.2,490.9 L1123.5,490.9 L1124.7,490.9 L1126.0,490.8 L1127.2,490.8 L1128.5,490.8 L1129.7,490.9 L1131.0,490.8 L1132.2,490.8 L1133.5,490.8 L1134.7,490.9 L1136.0,490.9 L1137.2,490.9 L1138.5,490.8 L1139.7,490.8 L1141.0,490.8 L1142.2,490.9 L1143.5,490.8 L1144.7,490.8 L1146.0,490.8 L1147.2,490.8 L1148.5,489.3 L1149.7,489.2 L1151.0,490.8 L1152.2,490.7 L1153.5,490.8 L1154.7,490.8 L1156.0,490.9 L1157.2,491.0 L1158.5,490.9 L1159.7,490.7 L1161.0,490.6 L1162.2,490.6 L1163.5,490.9 L1164.7,490.9 L1166.0,490.9 L1167.2,490.8 L1168.5,490.8 L1169.7,490.8 L1171.0,490.8 L1172.2,490.9 L1173.5,490.9 L1174.7,490.8 L1176.0,490.7 L1177.2,490.9 L1178.5,490.9 L1179.7,490.8 L1181.0,490.7 L1182.2,490.6 L1183.5,490.6 L1184.7,490.6 L1186.0,490.7 L1187.2,490.7 L1188.5,490.8 L1189.7,490.9 L1191.0,490.9 L1192.2,490.9 L1193.5,490.9 L1194.7,491.0 L1196.0,488.4 L1197.2,488.4 L1198.5,490.8 L1199.7,491.0 L1201.0,490.8 L1202.2,490.7 L1203.5,490.7 L1204.7,490.7 L1206.0,490.8 L1207.2,490.8 L1208.5,490.7 L1209.7,490.6 L1211.0,490.6 L1212.2,490.8 L1213.5,490.9 L1214.7,491.0 L1216.0,491.0 L1217.2,491.0 L1218.5,490.8 L1219.7,490.7 L1221.0,490.7 L1222.2,490.8 L1223.5,490.7 L1224.7,490.9 L1226.0,490.7 L1227.2,490.8 L1228.5,490.7 L1229.7,490.6 L1231.0,490.6 L1232.2,490.7 L1233.5,490.8 L1234.7,490.8 L1236.0,490.9 L1237.2,490.9 L1238.5,490.9 L1239.7,490.8 L1241.0,490.7 L1242.2,490.8 L1243.5,490.8 L1244.7,490.9 L1246.0,490.9 L1247.2,490.8 L1248.5,490.7 L1249.7,490.5 L1251.0,490.6 L1252.2,490.6 L1253.5,490.7 L1254.7,490.4 L1256.0,491.8 L1257.2,491.7 L1258.5,489.8 L1259.7,487.5 L1261.0,481.8 L1262.2,473.5 L1263.5,468.5 L1264.7,471.2 L1266.0,476.9 L1267.2,480.1 L1268.5,481.2 L1269.7,482.3 L1271.0,483.0 L1272.2,481.3 L1273.5,477.7 L1274.7,475.8 L1276.0,478.7 L1277.2,483.9 L1278.5,487.8 L1279.7,489.7 L1281.0,490.2 L1282.2,490.5 L1283.5,490.6 L1284.7,490.9 L1286.0,490.9 L1287.2,490.7 L1288.5,490.5 L1289.7,487.8 L1291.0,487.7 L1292.2,489.9 L1293.5,489.4 L1294.7,488.8 L1296.0,488.2 L1297.2,487.7 L1298.5,487.4 L1299.7,487.2 L1301.0,487.4 L1302.2,487.8 L1303.5,488.4 L1304.7,488.8 L1306.0,489.2 L1307.2,489.5 L1308.5,490.0 L1309.7,490.4 L1311.0,490.6 L1312.2,490.6 L1313.5,490.5 L1314.7,490.5 L1316.0,490.4 L1317.2,490.2 L1318.5,489.7 L1319.7,489.0 L1321.0,488.3 L1322.2,487.6 L1323.5,487.0 L1324.7,486.5 L1326.0,486.3 L1327.2,486.5 L1328.5,487.0 L1329.7,487.6 L1331.0,487.2 L1332.2,487.8 L1333.5,488.4 L1334.7,490.1 L1336.0,490.4 L1337.2,490.6 L1338.5,490.6 L1339.7,490.7 L1341.0,490.7 L1342.2,490.6 L1343.5,490.6 L1344.7,490.5 L1346.0,490.3 L1347.2,489.9 L1348.5,489.6 L1349.7,489.2 L1351.0,488.7 L1352.2,488.2 L1353.5,487.9 L1354.7,487.8 L1356.0,488.1 L1357.2,488.4 L1358.5,488.8 L1359.7,489.4 L1361.0,489.8 L1362.2,490.1 L1363.5,490.2 L1364.7,490.5 L1366.0,490.8 L1367.2,490.8 L1368.5,490.8 L1369.7,490.7 L1371.0,490.7 L1372.2,490.8 L1373.5,490.8 L1374.7,490.8 L1376.0,490.8 L1377.2,490.7 L1378.5,490.7 L1379.7,490.7 L1381.0,490.8 L1382.2,489.7 L1383.5,489.6 L1384.7,489.6 L1386.0,490.8 L1387.2,490.9 L1388.5,490.7 L1389.7,490.7 L1391.0,490.6 L1391.2,490.8" fill="none" stroke="#0000ff" stroke-width="7.2" stroke-linejoin="round" stroke-linecap="butt"/>
<path d="M676.7,484.2 L679.6,476.5 L682.0,472.5 L682.0,449.0 L684.0,447.0 L684.0,348.8 L687.1,346.8 L687.1,301.6 L687.7,298.3 L688.9,302.8 L688.9,336.8 L691.4,338.8 L691.4,370.4 L693.8,372.3 L693.8,407.8 L696.7,415.8 L696.9,437.2 L698.9,456.8 L699.1,465.7 L700.8,453.8 L703.4,435.8 L705.7,429.3 L705.7,411.8 L708.7,409.8 L708.7,391.8 L709.3,389.6 L709.9,391.8 L709.9,425.8 L712.5,427.8 L712.5,441.1 L713.4,443.8 L713.4,456.8 L715.6,476.8 L718.0,460.8 L719.5,445.0 L721.9,442.7 L723.3,446.3 L725.2,450.8 L725.2,468.8 L727.2,476.6 L730.5,488.1 L735.6,490.9" fill="none" stroke="#0000ff" stroke-width="8" stroke-linejoin="round" stroke-linecap="round"/>
<path d="M214.7,676.8 L215.9,676.8 L217.2,676.8 L218.4,676.8 L219.7,676.8 L220.9,676.8 L222.2,676.8 L223.4,676.8 L224.7,676.8 L225.9,676.8 L227.2,676.8 L228.4,676.8 L229.7,676.8 L230.9,676.8 L232.2,676.8 L233.4,676.8 L234.7,676.8 L235.9,676.8 L237.2,676.8 L238.4,676.8 L239.7,676.8 L240.9,676.8 L242.2,676.8 L243.4,676.8 L244.7,676.8 L245.0,676.4 L262.0,675.7 L267.9,674.1 L274.2,671.0 L278.1,665.1 L281.3,658.3 L283.6,648.8 L286.0,640.8 L286.0,622.3 L287.9,620.3 L287.9,559.3 L289.6,554.3 L290.4,533.4 L291.4,552.3 L292.7,554.3 L292.7,621.9 L294.8,623.5 L294.8,665.9 L296.2,668.9 L299.8,665.9 L304.8,661.2 L307.5,652.5 L310.0,647.1 L310.0,621.9 L312.4,620.3 L312.4,585.0 L313.4,576.6 L314.4,582.8 L316.3,588.9 L316.3,629.8 L318.4,637.6 L320.7,645.5 L320.7,662.8 L322.3,667.1 L325.8,669.2 L334.0,668.9 L338.3,666.8 L342.0,669.9 L352.0,673.5 L364.0,676.1 L364.7,676.5 L365.9,676.6 L367.2,676.7 L368.4,676.7 L369.7,676.6 L370.9,676.5 L372.2,676.5 L373.4,675.4 L374.7,675.4 L375.9,676.6 L377.2,676.5 L378.4,676.4 L379.7,676.4 L380.9,676.5 L382.2,676.6 L383.4,676.6 L384.7,676.5 L385.9,676.5 L387.2,676.6 L388.4,676.7 L389.7,676.7 L390.9,676.6 L392.2,676.4 L393.4,676.5 L394.7,676.4 L395.9,676.5 L397.2,676.4 L398.4,676.4 L399.7,676.4 L400.9,676.5 L402.2,676.4 L403.4,676.5 L404.7,676.5 L405.9,676.5 L407.2,676.4 L408.4,676.5 L409.7,676.5 L410.9,676.5 L412.2,675.2 L413.4,675.2 L414.7,675.2 L415.9,676.5 L417.2,676.5 L418.4,676.3 L419.7,676.3 L420.9,676.3 L422.2,676.3 L423.4,676.0 L424.7,674.7 L425.9,672.1 L427.2,668.5 L428.4,666.7 L429.7,668.6 L430.9,672.2 L432.2,674.9 L433.4,676.0 L434.7,676.3 L435.9,676.2 L437.2,676.1 L438.4,676.0 L439.7,675.9 L440.9,675.5 L442.2,674.3 L443.4,671.2 L444.7,665.4 L445.9,658.9 L447.2,655.8 L448.4,658.7 L449.7,665.1 L450.9,671.0 L452.2,674.4 L453.4,675.6 L454.7,676.0 L455.9,675.9 L457.2,675.9 L458.4,675.8 L459.7,675.6 L460.9,675.3 L462.2,674.7 L463.4,673.0 L464.7,669.3 L465.9,663.3 L467.2,655.5 L468.4,648.4 L469.7,645.4 L470.9,648.3 L472.2,655.4 L473.4,663.1 L474.7,669.2 L475.9,672.9 L477.2,674.6 L478.4,675.3 L479.7,675.5 L480.9,675.7 L482.2,675.5 L483.4,675.1 L484.7,673.9 L485.9,671.5 L487.2,668.0 L488.4,664.4 L489.7,662.4 L490.9,662.9 L492.2,664.5 L493.4,665.8 L494.7,665.5 L495.9,663.8 L497.2,660.2 L498.4,656.4 L499.7,655.0 L500.9,657.8 L502.2,663.4 L503.4,669.0 L504.7,672.9 L505.9,674.7 L507.2,675.4 L508.4,673.1 L509.7,673.1 L510.9,674.8 L512.2,673.7 L513.5,672.5 L514.7,671.8 L516.0,672.2 L517.2,673.4 L518.5,674.7 L519.7,675.4 L521.0,675.8 L522.2,675.8 L523.5,675.9 L524.7,676.0 L526.0,676.0 L527.2,676.2 L528.5,676.2 L529.7,676.3 L531.0,676.2 L532.2,676.2 L533.5,676.2 L534.7,676.2 L536.0,675.9 L537.2,675.7 L538.5,673.8 L539.7,673.4 L541.0,672.4 L542.2,672.3 L543.5,670.0 L544.7,667.3 L546.0,665.3 L547.2,664.4 L548.5,665.4 L549.7,667.5 L551.0,670.1 L552.2,672.4 L553.5,674.0 L554.7,675.0 L556.0,676.9 L557.2,677.2 L558.5,677.3 L559.7,676.1 L561.0,676.1 L562.2,676.2 L563.5,676.1 L564.7,676.1 L566.0,676.1 L567.2,676.1 L568.5,676.0 L569.7,675.9 L571.0,675.9 L572.2,676.0 L573.5,676.1 L574.7,676.0 L576.0,675.9 L577.2,675.9 L578.5,676.0 L579.7,676.0 L581.0,675.4 L582.2,673.9 L583.5,671.2 L584.7,668.2 L586.0,666.7 L587.2,668.0 L588.5,671.0 L589.7,673.8 L591.0,675.4 L592.2,675.8 L593.5,676.0 L594.7,676.1 L596.0,676.2 L597.2,676.1 L598.5,676.1 L599.7,675.9 L601.0,675.9 L602.2,675.9 L603.5,676.0 L604.7,676.0 L606.0,676.0 L607.2,676.0 L608.5,674.2 L609.7,673.7 L611.0,672.0 L612.2,670.8 L613.5,666.3 L614.7,662.1 L616.0,659.9 L617.2,661.3 L618.5,664.6 L619.7,667.6 L621.0,668.9 L622.2,668.7 L623.5,667.4 L624.7,664.1 L626.0,658.7 L627.2,653.0 L628.5,650.6 L629.7,653.6 L631.0,660.4 L632.2,667.4 L633.5,671.0 L634.7,674.6 L636.0,675.4 L637.2,675.7 L638.5,675.8 L639.7,673.8 L641.0,673.7 L642.2,675.8 L643.5,675.4 L644.7,675.3 L646.0,674.8 L647.2,674.2 L648.5,673.0 L649.7,672.1 L651.0,671.6 L652.2,672.0 L653.5,672.8 L654.7,673.7 L656.0,674.2 L657.2,674.1 L658.5,673.2 L659.7,671.3 L661.0,668.8 L662.2,666.5 L663.5,665.6 L664.7,666.4 L666.0,668.6 L667.2,671.2 L668.0,675.6 L669.8,675.0 L674.7,671.2 L677.7,661.5 L681.2,653.6 L682.0,641.8 L682.0,612.3 L684.0,610.3 L684.0,502.3 L685.5,498.3 L686.7,480.3 L687.9,494.5 L688.9,497.4 L688.9,557.3 L691.4,559.3 L691.4,573.1 L693.8,575.0 L694.0,598.6 L696.0,622.2 L697.9,641.8 L698.3,650.1 L700.2,638.3 L703.2,616.3 L705.7,610.3 L705.7,588.8 L708.7,586.8 L708.7,569.3 L709.1,566.8 L709.5,569.3 L709.5,598.6 L711.5,602.5 L711.5,626.1 L713.2,630.3 L713.2,648.3 L715.0,663.8 L717.4,649.7 L718.9,637.9 L721.9,636.5 L722.3,639.8 L724.2,648.4 L726.2,663.4 L729.5,673.1 L734.7,675.9 L742.0,675.9 L742.2,675.6 L743.5,675.6 L744.7,675.4 L746.0,675.2 L747.2,674.7 L748.5,673.9 L749.7,673.0 L751.0,671.8 L752.2,670.2 L753.5,668.2 L754.7,666.1 L756.0,663.9 L757.2,661.8 L758.5,660.5 L759.7,660.0 L761.0,660.4 L762.2,661.7 L763.5,663.5 L764.7,665.8 L766.0,668.0 L767.2,670.0 L768.5,671.6 L769.7,672.7 L771.0,673.3 L772.2,672.9 L773.5,671.6 L774.7,669.2 L776.0,666.3 L777.2,663.6 L778.5,662.4 L779.7,663.1 L781.0,664.9 L782.2,666.3 L783.5,666.1 L784.7,663.8 L786.0,660.2 L787.2,656.6 L788.5,655.3 L789.7,657.0 L791.0,661.3 L792.2,666.0 L793.5,669.8 L794.7,669.2 L796.0,671.7 L797.2,670.7 L798.5,669.6 L799.7,669.3 L801.0,670.0 L802.2,671.3 L803.5,672.9 L804.7,674.1 L806.0,674.9 L807.2,675.2 L808.5,675.3 L809.7,675.5 L811.0,675.6 L812.2,675.6 L813.5,675.7 L814.7,675.5 L816.0,675.4 L817.2,675.2 L818.5,675.1 L819.7,675.0 L821.0,674.6 L822.2,674.1 L823.5,673.6 L824.7,673.2 L826.0,672.9 L827.2,672.8 L828.5,672.8 L829.7,673.1 L831.0,673.5 L832.2,674.0 L833.5,674.4 L834.7,674.7 L836.0,674.9 L837.2,675.1 L838.5,674.8 L839.7,674.5 L841.0,673.4 L842.2,671.9 L843.5,669.4 L844.7,666.3 L846.0,663.2 L847.2,660.7 L848.5,659.8 L849.7,660.6 L851.0,663.1 L852.2,666.2 L853.5,669.1 L854.7,671.1 L856.0,672.2 L857.2,671.8 L858.5,669.9 L859.7,665.5 L861.0,658.7 L862.2,650.1 L863.5,642.3 L864.7,638.8 L866.0,641.7 L867.2,648.8 L868.5,656.4 L869.7,661.8 L871.0,664.2 L872.2,663.7 L873.5,662.1 L874.7,660.7 L876.0,660.2 L877.2,661.1 L878.5,663.1 L879.7,665.9 L881.0,668.8 L882.2,671.2 L883.5,672.9 L884.7,673.9 L886.0,674.4 L887.2,674.8 L888.5,675.1 L889.7,675.3 L891.0,675.3 L892.2,675.1 L893.5,674.8 L894.7,674.2 L896.0,673.3 L897.2,672.3 L898.5,671.5 L899.7,671.3 L901.0,671.7 L902.2,672.7 L903.5,673.7 L904.7,674.5 L906.0,672.8 L907.2,673.0 L908.5,675.5 L909.7,675.6 L911.0,675.7 L912.2,675.5 L913.5,675.6 L914.7,675.5 L916.0,675.6 L917.2,675.4 L918.5,675.5 L919.7,675.5 L921.0,675.5 L922.2,675.5 L923.5,675.4 L924.7,675.4 L926.0,675.5 L927.2,675.5 L928.5,675.3 L929.7,675.0 L931.0,674.7 L932.2,674.4 L933.5,673.8 L934.7,672.8 L936.0,671.5 L937.2,670.3 L938.5,669.4 L939.7,669.1 L941.0,669.3 L942.2,670.3 L943.5,671.4 L944.7,672.7 L946.0,673.7 L947.2,674.4 L948.5,674.7 L949.7,674.7 L951.0,674.7 L952.2,674.6 L953.5,676.6 L954.7,676.4 L956.0,676.2 L957.2,674.2 L958.5,674.0 L959.7,674.0 L961.0,674.0 L962.2,674.4 L963.5,674.6 L964.7,674.8 L966.0,675.0 L967.2,675.1 L968.5,675.3 L969.7,675.3 L971.0,675.3 L972.2,675.1 L973.5,675.0 L974.7,674.8 L976.0,674.5 L977.2,674.1 L978.5,673.7 L979.7,673.4 L981.0,673.1 L982.2,672.9 L983.5,672.9 L984.7,673.2 L986.0,673.6 L987.2,673.9 L988.5,674.3 L989.7,674.7 L991.0,675.0 L992.2,675.2 L993.5,675.2 L994.7,675.2 L996.0,675.3 L997.2,675.3 L998.5,675.4 L999.7,675.2 L1001.0,677.1 L1002.2,676.9 L1003.5,676.7 L1004.7,674.3 L1006.0,673.8 L1007.2,672.9 L1008.5,672.2 L1009.7,671.4 L1011.0,671.1 L1012.2,669.4 L1013.5,669.4 L1014.7,669.6 L1016.0,671.7 L1017.2,672.2 L1018.5,672.4 L1019.7,672.1 L1021.0,671.4 L1022.2,670.3 L1023.5,668.9 L1024.7,667.7 L1026.0,666.8 L1027.2,666.4 L1028.5,666.7 L1029.7,667.7 L1031.0,668.9 L1032.2,670.4 L1033.5,671.8 L1034.7,673.0 L1036.0,673.9 L1037.2,674.4 L1038.5,674.9 L1039.7,675.0 L1041.0,675.2 L1042.2,675.0 L1043.5,675.0 L1044.7,674.9 L1046.0,674.9 L1047.2,674.8 L1048.5,674.7 L1049.7,674.4 L1051.0,674.0 L1052.2,673.3 L1053.5,672.6 L1054.7,671.5 L1056.0,670.7 L1057.2,669.7 L1058.5,669.1 L1059.7,668.3 L1061.0,667.9 L1062.2,667.7 L1063.5,668.0 L1064.7,668.5 L1066.0,669.4 L1067.2,670.2 L1068.5,671.0 L1069.7,671.8 L1071.0,671.0 L1072.2,671.7 L1073.5,672.3 L1074.7,674.5 L1076.0,674.8 L1077.2,674.9 L1078.5,674.9 L1079.7,675.2 L1081.0,675.4 L1082.2,675.3 L1083.5,675.2 L1084.7,675.2 L1086.0,675.4 L1087.2,672.9 L1088.5,672.9 L1089.7,675.3 L1091.0,675.4 L1092.2,675.4 L1093.5,675.3 L1094.7,675.2 L1096.0,675.1 L1097.2,675.2 L1098.5,675.2 L1099.7,675.2 L1101.0,675.2 L1102.2,675.2 L1103.5,675.2 L1104.7,675.2 L1106.0,675.2 L1107.2,675.3 L1108.5,675.2 L1109.7,675.2 L1111.0,675.2 L1112.2,675.3 L1113.5,675.3 L1114.7,675.2 L1116.0,675.2 L1117.2,675.1 L1118.5,675.2 L1119.7,672.9 L1121.0,673.1 L1122.2,673.1 L1123.5,675.3 L1124.7,675.2 L1126.0,675.3 L1127.2,675.3 L1128.5,675.3 L1129.7,675.4 L1131.0,675.4 L1132.2,676.7 L1133.5,676.6 L1134.7,676.5 L1136.0,675.2 L1137.2,675.2 L1138.5,675.3 L1139.7,675.1 L1141.0,675.1 L1142.2,675.2 L1143.5,675.4 L1144.7,675.3 L1146.0,675.2 L1147.2,675.2 L1148.5,675.3 L1149.7,675.3 L1151.0,675.2 L1152.2,675.1 L1153.5,675.1 L1154.7,675.1 L1156.0,675.2 L1157.2,675.2 L1158.5,675.3 L1159.7,672.8 L1161.0,672.8 L1162.2,672.8 L1163.5,675.3 L1164.7,675.3 L1166.0,675.4 L1167.2,675.3 L1168.5,675.2 L1169.7,675.1 L1171.0,675.2 L1172.2,675.2 L1173.5,675.2 L1174.7,675.3 L1176.0,675.3 L1177.2,675.3 L1178.5,675.2 L1179.7,675.1 L1181.0,675.1 L1182.2,675.1 L1183.5,675.2 L1184.7,675.2 L1186.0,675.3 L1187.2,675.3 L1188.5,675.3 L1189.7,675.1 L1191.0,675.1 L1192.2,675.1 L1193.5,675.2 L1194.7,675.2 L1196.0,675.3 L1197.2,675.2 L1198.5,675.2 L1199.7,675.1 L1201.0,674.0 L1202.2,674.0 L1203.5,675.2 L1204.7,675.2 L1206.0,675.2 L1207.2,675.3 L1208.5,675.2 L1209.7,675.3 L1211.0,675.4 L1212.2,675.3 L1213.5,675.3 L1214.7,675.3 L1216.0,675.3 L1217.2,675.4 L1218.5,675.3 L1219.7,675.3 L1221.0,675.1 L1222.2,675.2 L1223.5,675.3 L1224.7,675.4 L1226.0,675.3 L1227.2,675.3 L1228.5,675.2 L1229.7,675.2 L1231.0,675.2 L1232.2,675.2 L1233.5,675.3 L1234.7,675.3 L1236.0,675.3 L1237.2,675.3 L1238.5,675.3 L1239.7,675.1 L1241.0,675.3 L1242.2,675.5 L1243.5,675.5 L1244.7,675.3 L1246.0,675.2 L1247.2,675.2 L1248.5,675.3 L1249.7,675.2 L1251.0,675.2 L1252.2,675.0 L1253.5,675.1 L1254.7,675.0 L1256.0,675.0 L1257.2,674.9 L1258.5,674.3 L1259.7,671.9 L1261.0,666.1 L1262.2,657.4 L1263.5,652.2 L1264.7,655.0 L1266.0,660.9 L1267.2,664.1 L1268.5,664.8 L1269.7,664.6 L1271.0,663.2 L1272.2,660.3 L1273.5,659.2 L1274.7,662.5 L1276.0,668.1 L1277.2,672.3 L1278.5,674.4 L1279.7,674.9 L1281.0,675.0 L1282.2,675.0 L1283.5,675.2 L1284.7,675.2 L1286.0,675.3 L1287.2,672.7 L1288.5,672.5 L1289.7,674.5 L1291.0,674.2 L1292.2,673.7 L1293.5,673.2 L1294.7,674.1 L1296.0,673.8 L1297.2,671.9 L1298.5,671.6 L1299.7,671.8 L1301.0,672.1 L1302.2,672.6 L1303.5,673.2 L1304.7,673.9 L1306.0,674.5 L1307.2,674.8 L1308.5,674.9 L1309.7,674.9 L1311.0,674.9 L1312.2,674.9 L1313.5,674.9 L1314.7,674.7 L1316.0,674.5 L1317.2,674.2 L1318.5,673.6 L1319.7,672.9 L1321.0,672.1 L1322.2,671.3 L1323.5,670.8 L1324.7,670.7 L1326.0,671.0 L1327.2,671.4 L1328.5,672.1 L1329.7,672.8 L1331.0,673.6 L1332.2,674.1 L1333.5,674.5 L1334.7,674.8 L1336.0,675.1 L1337.2,675.2 L1338.5,675.2 L1339.7,675.1 L1341.0,675.1 L1342.2,675.0 L1343.5,674.9 L1344.7,674.6 L1346.0,674.4 L1347.2,674.1 L1348.5,673.7 L1349.7,673.2 L1351.0,672.6 L1352.2,672.4 L1353.5,672.4 L1354.7,672.5 L1356.0,672.8 L1357.2,673.1 L1358.5,673.5 L1359.7,674.0 L1361.0,674.4 L1362.2,676.8 L1363.5,677.0 L1364.7,677.1 L1366.0,675.2 L1367.2,675.2 L1368.5,675.3 L1369.7,675.3 L1371.0,675.4 L1372.2,675.4 L1373.5,675.6 L1374.7,675.5 L1376.0,675.4 L1377.2,675.2 L1378.5,675.2 L1379.7,675.3 L1381.0,675.5 L1382.2,675.4 L1383.5,675.4 L1384.7,675.3 L1386.0,675.5 L1387.2,675.5 L1388.5,675.5 L1389.7,675.3 L1391.0,675.3 L1391.2,675.4" fill="none" stroke="#ff0000" stroke-width="7.2" stroke-linejoin="round" stroke-linecap="butt"/>
<path d="M674.7,671.2 L677.7,661.5 L681.2,653.6 L682.0,641.8 L682.0,612.3 L684.0,610.3 L684.0,502.3 L685.5,498.3 L686.7,480.3 L687.9,494.5 L688.9,497.4 L688.9,557.3 L691.4,559.3 L691.4,573.1 L693.8,575.0 L694.0,598.6 L696.0,622.2 L697.9,641.8 L698.3,650.1 L700.2,638.3 L703.2,616.3 L705.7,610.3 L705.7,588.8 L708.7,586.8 L708.7,569.3 L709.1,566.8 L709.5,569.3 L709.5,598.6 L711.5,602.5 L711.5,626.1 L713.2,630.3 L713.2,648.3 L715.0,663.8 L717.4,649.7 L718.9,637.9 L721.9,636.5 L722.3,639.8 L724.2,648.4 L726.2,663.4 L729.5,673.1 L734.7,675.9" fill="none" stroke="#ff0000" stroke-width="8" stroke-linejoin="round" stroke-linecap="round"/>
<path d="M214.7,861.2 L215.9,861.2 L217.2,861.2 L218.4,861.2 L219.7,861.2 L220.9,861.2 L222.2,861.2 L223.4,861.2 L224.7,861.2 L225.9,861.2 L227.2,861.2 L228.4,861.2 L229.7,861.2 L230.9,861.2 L232.2,861.2 L233.4,861.2 L234.7,861.2 L235.9,861.2 L237.2,861.2 L238.4,861.2 L239.7,861.2 L240.9,861.2 L242.2,861.2 L243.4,861.2 L244.7,861.2 L245.0,861.0 L264.7,860.7 L271.2,857.2 L278.3,849.4 L281.4,841.5 L283.0,833.6 L284.6,825.8 L285.4,819.5 L287.3,810.1 L288.0,798.0 L288.0,775.5 L289.8,773.9 L290.1,762.9 L290.4,731.4 L291.4,720.0 L293.1,731.4 L293.6,759.7 L295.0,762.9 L295.2,775.5 L295.4,849.4 L300.6,851.7 L305.8,841.5 L309.7,825.8 L312.1,810.1 L312.5,788.1 L315.0,767.5 L316.1,788.1 L317.2,800.6 L318.7,802.2 L319.3,810.1 L321.9,825.8 L324.3,841.5 L326.6,850.9 L330.9,857.2 L350.0,859.4 L375.0,861.2 L375.9,861.3 L377.2,861.3 L378.4,861.2 L379.7,861.3 L380.9,861.3 L382.2,861.2 L383.4,861.1 L384.7,861.1 L385.9,861.2 L387.2,861.2 L388.4,861.3 L389.7,861.4 L390.9,861.3 L392.2,861.3 L393.4,861.2 L394.7,861.3 L395.9,861.2 L397.2,861.2 L398.4,861.1 L399.7,861.0 L400.9,861.0 L402.2,861.1 L403.4,861.2 L404.7,861.1 L405.9,861.0 L407.2,861.0 L408.4,861.1 L409.7,861.2 L410.9,861.1 L412.2,861.2 L413.4,861.2 L414.7,861.1 L415.9,861.2 L417.2,861.2 L418.4,861.3 L419.7,861.2 L420.9,861.1 L422.2,861.2 L423.4,861.0 L424.7,860.8 L425.9,859.6 L427.2,856.9 L428.4,853.1 L429.7,851.2 L430.9,852.9 L432.2,856.6 L433.4,857.6 L434.7,858.9 L435.9,860.8 L437.2,861.0 L438.4,861.0 L439.7,860.9 L440.9,860.7 L442.2,860.4 L443.4,859.1 L444.7,855.8 L445.9,850.0 L447.2,843.6 L448.4,840.4 L449.7,843.5 L450.9,850.0 L452.2,855.8 L453.4,858.9 L454.7,860.2 L455.9,860.6 L457.2,860.7 L458.4,860.7 L459.7,860.6 L460.9,860.5 L462.2,860.3 L463.4,859.6 L464.7,857.8 L465.9,854.0 L467.2,847.8 L468.4,840.2 L469.7,833.3 L470.9,830.5 L472.2,833.3 L473.4,840.3 L474.7,847.9 L475.9,853.9 L477.2,857.6 L478.4,859.4 L479.7,860.3 L480.9,860.6 L482.2,860.6 L483.4,860.4 L484.7,860.0 L485.9,858.8 L487.2,856.5 L488.4,852.8 L489.7,849.2 L490.9,847.2 L492.2,847.7 L493.4,849.5 L494.7,850.7 L495.9,850.4 L497.2,848.4 L498.4,844.9 L499.7,841.1 L500.9,839.8 L502.2,842.5 L503.4,848.2 L504.7,853.6 L505.9,855.4 L507.2,857.5 L508.4,858.4 L509.7,860.7 L510.9,860.5 L512.2,859.6 L513.5,858.4 L514.7,857.1 L516.0,856.7 L517.2,859.3 L518.5,860.4 L519.7,861.7 L521.0,860.5 L522.2,861.0 L523.5,861.0 L524.7,861.1 L526.0,861.1 L527.2,860.9 L528.5,860.9 L529.7,861.0 L531.0,861.1 L532.2,861.1 L533.5,861.1 L534.7,861.0 L536.0,861.0 L537.2,860.9 L538.5,860.8 L539.7,860.6 L541.0,860.0 L542.2,858.9 L543.5,855.0 L544.7,855.0 L546.0,852.4 L547.2,850.2 L548.5,849.4 L549.7,850.2 L551.0,852.3 L552.2,855.0 L553.5,857.4 L554.7,859.0 L556.0,860.0 L557.2,860.5 L558.5,860.8 L559.7,861.0 L561.0,861.0 L562.2,861.0 L563.5,861.0 L564.7,861.0 L566.0,861.2 L567.2,861.1 L568.5,861.1 L569.7,861.0 L571.0,861.0 L572.2,861.0 L573.5,861.1 L574.7,861.1 L576.0,861.0 L577.2,860.8 L578.5,860.8 L579.7,862.8 L581.0,862.6 L582.2,860.1 L583.5,858.6 L584.7,856.0 L586.0,853.0 L587.2,851.5 L588.5,852.9 L589.7,855.9 L591.0,858.7 L592.2,860.1 L593.5,860.6 L594.7,862.2 L596.0,862.3 L597.2,860.9 L598.5,860.8 L599.7,860.9 L601.0,861.0 L602.2,861.1 L603.5,860.9 L604.7,861.0 L606.0,861.0 L607.2,861.1 L608.5,860.9 L609.7,859.5 L611.0,858.7 L612.2,858.5 L613.5,855.5 L614.7,851.2 L616.0,846.9 L617.2,844.9 L618.5,846.4 L619.7,849.6 L621.0,852.5 L622.2,853.8 L623.5,853.8 L624.7,852.5 L626.0,849.3 L627.2,843.8 L628.5,838.1 L629.7,835.7 L631.0,838.9 L632.2,845.5 L633.5,852.5 L634.7,857.1 L636.0,859.5 L637.2,860.3 L638.5,860.7 L639.7,860.9 L641.0,861.0 L642.2,860.9 L643.5,860.9 L644.7,860.7 L646.0,860.4 L647.2,859.8 L648.5,858.9 L649.7,858.0 L651.0,857.1 L652.2,856.7 L653.5,857.1 L654.7,858.0 L656.0,858.9 L657.2,859.4 L658.5,859.3 L659.7,858.2 L661.0,854.0 L662.2,853.8 L663.5,851.7 L664.7,850.8 L666.0,851.6 L667.2,853.8 L668.0,861.2 L671.7,858.6 L676.2,853.5 L678.9,847.8 L681.1,842.2 L682.3,824.0 L684.2,814.9 L684.3,742.0 L686.8,739.0 L686.8,666.0 L687.6,660.0 L688.4,660.0 L689.0,666.0 L689.0,700.0 L691.1,709.0 L691.3,745.7 L692.5,754.8 L693.6,755.3 L693.8,762.7 L694.4,772.3 L696.3,774.1 L696.7,796.8 L696.8,808.1 L697.8,825.1 L699.5,834.8 L703.0,808.1 L704.4,799.0 L705.9,791.1 L708.7,789.9 L708.7,757.0 L709.4,755.7 L710.2,757.0 L710.2,783.1 L713.0,784.3 L713.0,818.3 L714.8,836.5 L716.0,846.7 L717.6,842.2 L718.1,829.7 L719.9,819.5 L721.6,815.6 L725.1,819.5 L725.8,830.8 L728.1,842.2 L731.5,853.5 L737.0,859.2 L742.6,861.2 L743.5,860.8 L744.7,860.8 L746.0,860.5 L747.2,860.4 L748.5,860.0 L749.7,859.5 L751.0,858.4 L752.2,857.2 L753.5,855.5 L754.7,853.7 L756.0,851.4 L757.2,849.1 L758.5,847.1 L759.7,845.7 L761.0,845.2 L762.2,845.7 L763.5,847.0 L764.7,849.0 L766.0,851.3 L767.2,853.5 L768.5,855.5 L769.7,856.9 L771.0,857.9 L772.2,858.3 L773.5,860.2 L774.7,858.9 L776.0,854.7 L777.2,851.7 L778.5,849.1 L779.7,847.9 L781.0,848.5 L782.2,850.2 L783.5,851.6 L784.7,851.3 L786.0,849.2 L787.2,845.4 L788.5,841.9 L789.7,840.5 L791.0,842.3 L792.2,846.4 L793.5,851.1 L794.7,854.8 L796.0,856.8 L797.2,857.0 L798.5,856.0 L799.7,855.1 L801.0,854.7 L802.2,855.4 L803.5,856.6 L804.7,858.2 L806.0,859.3 L807.2,860.3 L808.5,860.7 L809.7,860.9 L811.0,860.8 L812.2,860.8 L813.5,861.0 L814.7,861.1 L816.0,858.8 L817.2,858.7 L818.5,858.6 L819.7,860.6 L821.0,860.2 L822.2,859.9 L823.5,859.5 L824.7,859.2 L826.0,858.6 L827.2,858.3 L828.5,857.0 L829.7,857.2 L831.0,858.7 L832.2,859.1 L833.5,859.4 L834.7,859.9 L836.0,860.1 L837.2,860.5 L838.5,860.6 L839.7,860.4 L841.0,859.8 L842.2,858.8 L843.5,855.6 L844.7,854.9 L846.0,851.9 L847.2,848.8 L848.5,846.3 L849.7,845.2 L851.0,846.1 L852.2,848.4 L853.5,851.4 L854.7,854.3 L856.0,858.0 L857.2,859.1 L858.5,857.4 L859.7,855.6 L861.0,851.7 L862.2,845.3 L863.5,837.2 L864.7,829.8 L866.0,826.7 L867.2,829.4 L868.5,835.9 L869.7,842.9 L871.0,847.8 L872.2,849.9 L873.5,849.6 L874.7,848.1 L876.0,846.4 L877.2,845.8 L878.5,846.6 L879.7,848.8 L881.0,851.4 L882.2,854.1 L883.5,856.5 L884.7,858.2 L886.0,859.4 L887.2,860.2 L888.5,860.5 L889.7,860.6 L891.0,860.6 L892.2,860.8 L893.5,860.6 L894.7,860.3 L896.0,859.7 L897.2,859.0 L898.5,858.0 L899.7,857.1 L901.0,856.7 L902.2,857.1 L903.5,858.0 L904.7,859.1 L906.0,858.8 L907.2,859.4 L908.5,860.8 L909.7,860.8 L911.0,860.9 L912.2,860.9 L913.5,861.1 L914.7,860.9 L916.0,861.1 L917.2,861.0 L918.5,861.1 L919.7,861.1 L921.0,861.1 L922.2,860.9 L923.5,860.9 L924.7,861.0 L926.0,861.1 L927.2,861.1 L928.5,861.0 L929.7,860.9 L931.0,860.6 L932.2,860.3 L933.5,860.0 L934.7,859.3 L936.0,858.2 L937.2,854.8 L938.5,853.7 L939.7,855.2 L941.0,854.9 L942.2,855.1 L943.5,857.3 L944.7,858.5 L946.0,858.3 L947.2,859.2 L948.5,859.9 L949.7,860.4 L951.0,860.6 L952.2,860.6 L953.5,860.5 L954.7,860.4 L956.0,860.2 L957.2,859.8 L958.5,859.6 L959.7,859.7 L961.0,859.9 L962.2,860.1 L963.5,860.1 L964.7,860.3 L966.0,860.6 L967.2,860.7 L968.5,860.8 L969.7,860.7 L971.0,860.9 L972.2,861.0 L973.5,861.0 L974.7,860.8 L976.0,860.4 L977.2,860.2 L978.5,859.8 L979.7,859.5 L981.0,859.1 L982.2,858.9 L983.5,858.8 L984.7,858.9 L986.0,857.6 L987.2,857.8 L988.5,859.8 L989.7,860.1 L991.0,860.5 L992.2,860.7 L993.5,860.9 L994.7,861.0 L996.0,861.1 L997.2,861.2 L998.5,861.2 L999.7,861.0 L1001.0,860.9 L1002.2,860.9 L1003.5,860.7 L1004.7,860.5 L1006.0,860.0 L1007.2,859.4 L1008.5,858.7 L1009.7,857.9 L1011.0,857.3 L1012.2,856.8 L1013.5,856.6 L1014.7,856.7 L1016.0,857.0 L1017.2,857.4 L1018.5,857.8 L1019.7,858.0 L1021.0,859.1 L1022.2,858.4 L1023.5,857.3 L1024.7,854.7 L1026.0,853.3 L1027.2,852.4 L1028.5,852.1 L1029.7,852.6 L1031.0,853.7 L1032.2,855.0 L1033.5,856.4 L1034.7,857.8 L1036.0,858.8 L1037.2,859.7 L1038.5,860.2 L1039.7,860.6 L1041.0,860.8 L1042.2,860.9 L1043.5,860.9 L1044.7,860.9 L1046.0,860.8 L1047.2,860.7 L1048.5,858.9 L1049.7,858.7 L1051.0,858.5 L1052.2,859.7 L1053.5,859.1 L1054.7,858.4 L1056.0,857.6 L1057.2,856.8 L1058.5,855.9 L1059.7,855.0 L1061.0,854.2 L1062.2,853.7 L1063.5,853.4 L1064.7,853.7 L1066.0,854.2 L1067.2,855.1 L1068.5,856.0 L1069.7,856.9 L1071.0,857.8 L1072.2,858.5 L1073.5,859.2 L1074.7,859.8 L1076.0,860.4 L1077.2,860.7 L1078.5,860.9 L1079.7,861.1 L1081.0,861.3 L1082.2,861.3 L1083.5,861.1 L1084.7,860.9 L1086.0,860.9 L1087.2,860.9 L1088.5,862.8 L1089.7,863.0 L1091.0,863.1 L1092.2,861.2 L1093.5,861.2 L1094.7,861.2 L1096.0,861.2 L1097.2,861.0 L1098.5,861.1 L1099.7,861.0 L1101.0,861.2 L1102.2,861.3 L1103.5,861.2 L1104.7,861.2 L1106.0,861.1 L1107.2,861.1 L1108.5,861.2 L1109.7,863.2 L1111.0,863.2 L1112.2,861.1 L1113.5,861.1 L1114.7,861.2 L1116.0,861.0 L1117.2,861.0 L1118.5,861.0 L1119.7,861.0 L1121.0,861.0 L1122.2,861.1 L1123.5,861.2 L1124.7,863.2 L1126.0,863.2 L1127.2,861.1 L1128.5,861.1 L1129.7,861.1 L1131.0,861.1 L1132.2,861.1 L1133.5,861.2 L1134.7,861.2 L1136.0,861.2 L1137.2,861.2 L1138.5,861.3 L1139.7,861.1 L1141.0,861.1 L1142.2,861.1 L1143.5,861.2 L1144.7,861.2 L1146.0,861.2 L1147.2,861.1 L1148.5,861.1 L1149.7,861.0 L1151.0,861.3 L1152.2,861.2 L1153.5,861.3 L1154.7,861.1 L1156.0,861.1 L1157.2,861.2 L1158.5,861.3 L1159.7,861.3 L1161.0,861.2 L1162.2,861.2 L1163.5,861.3 L1164.7,861.3 L1166.0,861.3 L1167.2,861.3 L1168.5,861.3 L1169.7,861.2 L1171.0,861.3 L1172.2,861.2 L1173.5,861.2 L1174.7,861.1 L1176.0,861.2 L1177.2,861.2 L1178.5,861.2 L1179.7,861.2 L1181.0,861.2 L1182.2,861.2 L1183.5,861.2 L1184.7,861.2 L1186.0,861.2 L1187.2,861.2 L1188.5,861.2 L1189.7,861.3 L1191.0,861.1 L1192.2,861.2 L1193.5,861.2 L1194.7,861.3 L1196.0,861.3 L1197.2,861.3 L1198.5,861.3 L1199.7,861.2 L1201.0,861.3 L1202.2,861.2 L1203.5,861.2 L1204.7,861.0 L1206.0,861.0 L1207.2,861.0 L1208.5,861.1 L1209.7,859.7 L1211.0,859.6 L1212.2,859.5 L1213.5,861.0 L1214.7,861.1 L1216.0,861.2 L1217.2,861.3 L1218.5,861.3 L1219.7,861.2 L1221.0,861.1 L1222.2,861.1 L1223.5,861.1 L1224.7,861.1 L1226.0,861.2 L1227.2,860.1 L1228.5,860.1 L1229.7,860.0 L1231.0,860.0 L1232.2,861.1 L1233.5,861.2 L1234.7,861.3 L1236.0,861.3 L1237.2,861.2 L1238.5,861.2 L1239.7,861.2 L1241.0,860.0 L1242.2,860.0 L1243.5,861.2 L1244.7,861.1 L1246.0,860.9 L1247.2,860.9 L1248.5,859.8 L1249.7,859.9 L1251.0,859.8 L1252.2,860.9 L1253.5,860.9 L1254.7,860.9 L1256.0,860.9 L1257.2,860.8 L1258.5,860.7 L1259.7,860.0 L1261.0,857.8 L1262.2,851.8 L1263.5,843.4 L1264.7,838.2 L1266.0,841.2 L1267.2,847.2 L1268.5,850.3 L1269.7,850.9 L1271.0,850.5 L1272.2,849.1 L1273.5,846.3 L1274.7,845.2 L1276.0,848.6 L1277.2,854.1 L1278.5,858.3 L1279.7,859.1 L1281.0,859.6 L1282.2,860.9 L1283.5,860.8 L1284.7,860.9 L1286.0,860.9 L1287.2,860.9 L1288.5,860.8 L1289.7,860.7 L1291.0,860.4 L1292.2,862.1 L1293.5,861.7 L1294.7,861.2 L1296.0,858.6 L1297.2,858.1 L1298.5,857.5 L1299.7,857.4 L1301.0,857.6 L1302.2,858.0 L1303.5,858.6 L1304.7,860.7 L1306.0,861.3 L1307.2,860.4 L1308.5,860.5 L1309.7,860.7 L1311.0,860.7 L1312.2,860.9 L1313.5,860.9 L1314.7,860.8 L1316.0,860.7 L1317.2,860.4 L1318.5,860.0 L1319.7,859.5 L1321.0,858.8 L1322.2,858.0 L1323.5,857.3 L1324.7,856.7 L1326.0,856.5 L1327.2,856.6 L1328.5,857.3 L1329.7,858.0 L1331.0,858.8 L1332.2,859.4 L1333.5,859.9 L1334.7,860.3 L1336.0,860.6 L1337.2,860.8 L1338.5,861.0 L1339.7,861.1 L1341.0,861.0 L1342.2,860.9 L1343.5,860.7 L1344.7,860.8 L1346.0,860.7 L1347.2,860.5 L1348.5,860.1 L1349.7,858.0 L1351.0,857.4 L1352.2,858.5 L1353.5,858.2 L1354.7,858.0 L1356.0,858.1 L1357.2,858.5 L1358.5,858.9 L1359.7,859.5 L1361.0,859.9 L1362.2,860.4 L1363.5,860.7 L1364.7,860.9 L1366.0,860.9 L1367.2,861.1 L1368.5,861.1 L1369.7,861.2 L1371.0,861.1 L1372.2,861.1 L1373.5,861.0 L1374.7,861.1 L1376.0,861.1 L1377.2,861.0 L1378.5,861.1 L1379.7,861.2 L1381.0,861.4 L1382.2,861.4 L1383.5,861.3 L1384.7,861.3 L1386.0,861.2 L1387.2,861.2 L1388.5,861.2 L1389.7,861.2 L1391.0,861.2 L1391.2,861.2" fill="none" stroke="#000000" stroke-width="7.2" stroke-linejoin="round" stroke-linecap="butt"/>
</g>
<g id="ticks">
<path d="M210,926 L217,926 L217,933.5 L213.5,937 L210,933.5 Z" fill="#000"/>
<rect x="342.0" y="926" width="5.1" height="17.5" fill="#000"/>
<path d="M472.1,926 L478.9,926 L478.9,933 L475.5,936.6 L472.1,933 Z" fill="#000"/>
<rect x="603.8" y="926" width="5.1" height="17.5" fill="#000"/>
<path d="M733.9,926 L740.7,926 L740.7,933 L737.3,936.6 L733.9,933 Z" fill="#000"/>
<rect x="865.6" y="926" width="5.1" height="17.5" fill="#000"/>
<path d="M995.6,926 L1002.4,926 L1002.4,933 L999.0,936.6 L995.6,933 Z" fill="#000"/>
<rect x="1127.4" y="926" width="5.1" height="17.5" fill="#000"/>
<path d="M1257.4,926 L1264.2,926 L1264.2,933 L1260.8,936.6 L1257.4,933 Z" fill="#000"/>
</g>
<g id="ticklabels">
<text x="344.8" y="998" font-size="58.5" text-anchor="middle">10</text>
<text x="606.3" y="998" font-size="58.5" text-anchor="middle">20</text>
<text x="867.0" y="998" font-size="58.5" text-anchor="middle">30</text>
<text x="1129.0" y="998" font-size="58.5" text-anchor="middle">40</text>
<text x="1391.1" y="998" font-size="58.5" text-anchor="middle">50</text>
</g>
<g id="legend" font-size="69.5">
<text x="941" y="261" textLength="401" lengthAdjust="spacingAndGlyphs">ZSM-120 min</text>
<text x="956" y="450.5" textLength="366" lengthAdjust="spacingAndGlyphs">ZSM-60 min</text>
<text x="961" y="630" textLength="364.5" lengthAdjust="spacingAndGlyphs">ZSM-20 min</text>
<text x="973" y="817.5" textLength="331.5" lengthAdjust="spacingAndGlyphs">ZSM-0 min</text>
</g>
<text x="560.2" y="1087.7" font-size="70" textLength="439.5" lengthAdjust="spacingAndGlyphs">2 Theta /degree</text>
<text transform="translate(76.5,709) rotate(-90)" font-size="70" textLength="430.5" lengthAdjust="spacingAndGlyphs">Intensity /(a.u.)</text>
</svg>
</body>
</html>
